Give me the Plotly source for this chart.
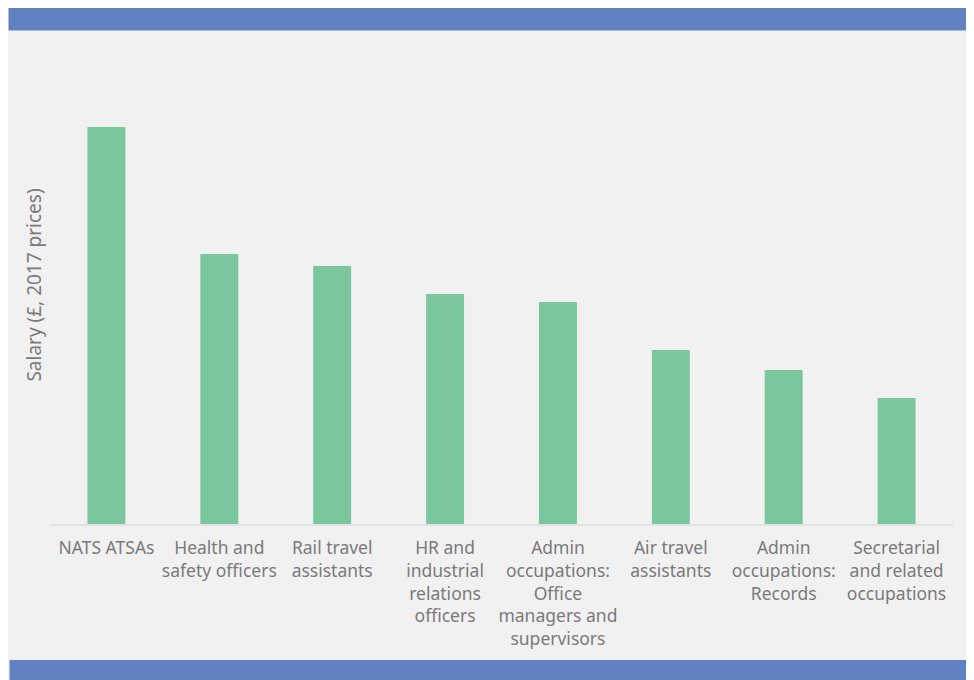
import plotly.graph_objects as go

categories = [
    "NATS ATSAs",
    "Health and<br>safety officers",
    "Rail travel<br>assistants",
    "HR and<br>industrial<br>relations<br>officers",
    "Admin<br>occupations:<br>Office<br>managers and<br>supervisors",
    "Air travel<br>assistants",
    "Admin<br>occupations:<br>Records",
    "Secretarial<br>and related<br>occupations",
]
salaries = [39700, 27000, 25800, 23000, 22200, 17400, 15400, 12600]

W, H = 974, 680
L, R, T, B = 41.5, 28.5, 38, 164
pw, ph = W - L - R, H - T - B

def px(x):
    return (x - L) / pw

def py(y):
    return (H - B - y) / ph

fig = go.Figure(go.Bar(x=categories, y=salaries, marker_color="#7AC79D",
                       marker_line_width=0, hoverinfo="skip"))

shapes = [
    dict(type="rect", xref="paper", yref="paper", x0=px(0), x1=px(W), y0=py(0), y1=py(22.5),
         fillcolor="#6281C0", line_width=0, layer="below"),
    dict(type="rect", xref="paper", yref="paper", x0=px(1), x1=px(W), y0=py(652), y1=py(H),
         fillcolor="#6281C0", line_width=0, layer="below"),
]

fig.update_layout(
    width=W, height=H,
    margin=dict(l=L, r=R, t=T, b=B, pad=0),
    paper_bgcolor="#F1F1F1", plot_bgcolor="#F1F1F1",
    bargap=0.664,
    showlegend=False,
    shapes=shapes,
    font=dict(family="Noto Sans", size=18, color="#7a7a7a"),
    xaxis=dict(showline=True, linecolor="#E2E2E2", linewidth=2, ticks="",
               tickfont=dict(size=17.5, color="#7a7a7a"), ticklabelstandoff=7,
               showgrid=False, fixedrange=True),
    yaxis=dict(range=[0, 47800], showticklabels=False, showgrid=False, zeroline=False,
               showline=False, ticks="",
               title=dict(text="Salary (£, 2017 prices)", standoff=2,
                          font=dict(size=19, color="#7a7a7a"))),
)

fig.write_html("out.html")
